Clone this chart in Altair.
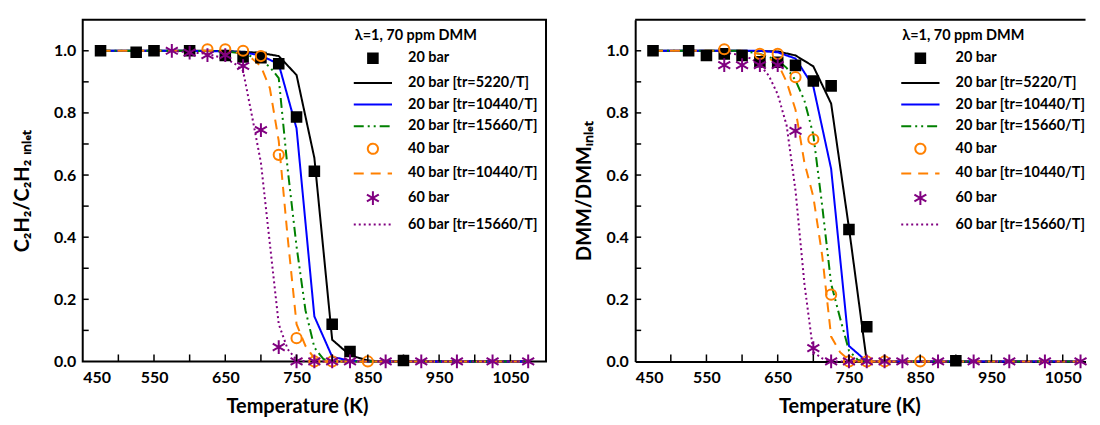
import altair as alt
import pandas as pd

# ---------------- series definitions ----------------
SERIES = ["20 bar", "20 bar [tr=5220/T]", "20 bar [tr=10440/T]", "20 bar [tr=15660/T]",
          "40 bar", "40 bar [tr=10440/T]", "60 bar", "60 bar [tr=15660/T]"]
STROKES = ["#000000", "#000000", "#0000FF", "#008000", "#FF8000", "#FF8000", "#800080", "#800080"]
FILLS = ["#000000", "transparent", "transparent", "transparent", "transparent", "transparent",
         "transparent", "transparent"]
SQUARE = "M-0.8,-0.8H0.8V0.8H-0.8Z"
LINE = "M-3.2,0H3.2"
CIRCLE = "M-0.85,0A0.85,0.85,0,1,1,0.85,0A0.85,0.85,0,1,1,-0.85,0Z"
STAR = "M0,-1.15V1.15M-1,-0.58L1,0.58M-1,0.58L1,-0.58"
SHAPES = [SQUARE, LINE, LINE, LINE, CIRCLE, LINE, STAR, LINE]
DASHES = [[1, 0], [1, 0], [1, 0], [10, 4, 2, 4, 2, 4], [1, 0], [10, 7], [1, 0], [2, 3]]

X_TICKS = [500, 550, 600, 650, 700, 750, 800, 850, 900, 950, 1000, 1050]
Y_TICKS = [0.1, 0.2, 0.3, 0.4, 0.5, 0.6, 0.7, 0.8, 0.9, 1.0]
X_LABELS = [450, 550, 650, 750, 850, 950, 1050]
Y_LABELS = [0.0, 0.2, 0.4, 0.6, 0.8, 1.0]

# ---------------- left panel: C2H2 ----------------
L_EXP20_T = [475, 525, 550, 600, 650, 675, 700, 725, 750, 775, 800, 825, 900]
L_EXP20_V = [1.0, 0.995, 1.0, 1.0, 0.985, 0.98, 0.978, 0.958, 0.787, 0.612, 0.12, 0.032, 0.003]
L_EXP40_T = [625, 650, 675, 700, 725, 750, 775, 800, 850]
L_EXP40_V = [1.005, 1.005, 1.0, 0.983, 0.665, 0.075, 0.0, 0.0, 0.0]
L_EXP60_T = [575, 600, 625, 650, 675, 700, 725, 750, 775, 800, 825, 875, 925, 975, 1025, 1075]
L_EXP60_V = [1.0, 0.994, 0.986, 0.986, 0.951, 0.745, 0.046, 0.0, 0.0, 0.0, 0.0, 0.0, 0.0, 0.0, 0.0, 0.0]

L_M5220_T = [475, 500, 525, 550, 575, 600, 625, 650, 675, 700, 725, 750, 775, 800, 825, 850, 875,
             900, 950, 1000, 1050, 1075]
L_M5220_V = [1.0, 1.0, 1.0, 1.0, 1.0, 1.0, 1.0, 0.999, 0.997, 0.993, 0.983, 0.922, 0.655, 0.07,
             0.02, 0.003, 0.0, 0.0, 0.0, 0.0, 0.0, 0.0]
L_M10440_T = [475, 500, 550, 600, 650, 675, 700, 725, 750, 775, 800, 825, 850, 900, 950, 1000,
              1050, 1075]
L_M10440_V = [1.0, 1.0, 1.0, 1.0, 0.998, 0.995, 0.985, 0.957, 0.75, 0.145, 0.015, 0.002, 0.0, 0.0,
              0.0, 0.0, 0.0, 0.0]
L_M15660_T = [475, 500, 550, 600, 650, 675, 700, 712.5, 725, 737.5, 750, 762.5, 775, 787.5, 800,
              850, 900, 950, 1000, 1050, 1075]
L_M15660_V = [1.0, 1.0, 1.0, 1.0, 0.998, 0.992, 0.97, 0.948, 0.912, 0.62, 0.37, 0.165, 0.045,
              0.008, 0.0, 0.0, 0.0, 0.0, 0.0, 0.0, 0.0]
L_M40_T = [475, 500, 550, 600, 650, 675, 687.5, 700, 712.5, 725, 737.5, 750, 762.5, 775, 787.5,
           800, 850, 900, 950, 1000, 1050, 1075]
L_M40_V = [1.0, 1.0, 1.0, 1.0, 1.0, 0.99, 0.975, 0.95, 0.88, 0.71, 0.40, 0.12, 0.05, 0.01, 0.0,
           0.0, 0.0, 0.0, 0.0, 0.0, 0.0, 0.0]
L_M60_T = [575, 600, 625, 650, 662.5, 675, 687.5, 700, 712.5, 725, 737.5, 750, 762.5, 800, 850,
           900, 950, 1000, 1050, 1075]
L_M60_V = [1.0, 0.995, 0.99, 0.975, 0.96, 0.935, 0.79, 0.64, 0.38, 0.12, 0.04, 0.005, 0.0, 0.0,
           0.0, 0.0, 0.0, 0.0, 0.0, 0.0]

# ---------------- right panel: DMM ----------------
R_EXP20_T = [475, 525, 550, 575, 600, 625, 650, 675, 700, 725, 750, 775, 900]
R_EXP20_V = [1.0, 1.0, 0.985, 0.99, 0.985, 0.965, 0.963, 0.953, 0.903, 0.887, 0.425, 0.112, 0.002]
R_EXP40_T = [575, 625, 650, 675, 700, 725, 750, 775, 800, 850]
R_EXP40_V = [1.005, 0.99, 0.99, 0.915, 0.715, 0.215, 0.0, 0.0, 0.0, 0.0]
R_EXP60_T = [575, 600, 625, 650, 675, 700, 725, 750, 775, 800, 825, 875, 925, 975, 1025, 1075]
R_EXP60_V = [0.954, 0.954, 0.954, 0.954, 0.742, 0.043, 0.0, 0.0, 0.0, 0.0, 0.0, 0.0, 0.0, 0.0,
             0.0, 0.0]

R_M5220_T = [475, 500, 550, 600, 650, 675, 700, 725, 750, 775, 800, 850, 900, 950, 1000, 1050, 1075]
R_M5220_V = [1.0, 1.0, 1.0, 1.0, 0.998, 0.985, 0.95, 0.83, 0.43, 0.0, 0.0, 0.0, 0.0, 0.0, 0.0,
             0.0, 0.0]
R_M10440_T = [475, 500, 550, 600, 625, 650, 675, 700, 725, 750, 775, 800, 850, 900, 950, 1000,
              1050, 1075]
R_M10440_V = [1.0, 1.0, 1.0, 1.0, 1.0, 0.995, 0.975, 0.885, 0.62, 0.05, 0.0, 0.0, 0.0, 0.0, 0.0,
              0.0, 0.0, 0.0]
R_M15660_T = [475, 500, 550, 600, 625, 650, 662.5, 675, 687.5, 700, 712.5, 725, 737.5, 750, 762.5,
              775, 800, 850, 900, 950, 1000, 1050, 1075]
R_M15660_V = [1.0, 1.0, 1.0, 1.0, 0.99, 0.97, 0.945, 0.905, 0.84, 0.73, 0.50, 0.25, 0.14, 0.035,
              0.005, 0.0, 0.0, 0.0, 0.0, 0.0, 0.0, 0.0, 0.0]
R_M40_T = [475, 500, 550, 600, 625, 650, 662.5, 675, 687.5, 700, 712.5, 725, 737.5, 750, 762.5,
           800, 850, 900, 950, 1000, 1050, 1075]
R_M40_V = [1.0, 1.0, 1.0, 1.0, 0.99, 0.96, 0.9, 0.81, 0.64, 0.53, 0.34, 0.08, 0.03, 0.005, 0.0,
           0.0, 0.0, 0.0, 0.0, 0.0, 0.0, 0.0]
R_M60_T = [575, 600, 612.5, 625, 637.5, 650, 662.5, 675, 687.5, 700, 712.5, 725, 750, 800, 850,
           900, 950, 1000, 1050, 1075]
R_M60_V = [0.995, 0.985, 0.975, 0.955, 0.92, 0.86, 0.76, 0.55, 0.25, 0.03, 0.01, 0.0, 0.0, 0.0,
           0.0, 0.0, 0.0, 0.0, 0.0, 0.0]


def frame(pairs):
    rows = []
    for name, ts, vs in pairs:
        for t, v in zip(ts, vs):
            rows.append({"T": t, "v": v, "series": name})
    return pd.DataFrame(rows)


FONT = "Lato"
PLOT_H = 343


def panel(points, lines, ytitle, width, xmax, title_pad, legend_x, framed):
    pts_df = frame(points)
    lns_df = frame(lines)
    xscale = alt.Scale(domain=[450, xmax], nice=False, zero=False)
    yscale = alt.Scale(domain=[0, 1.1], nice=False)
    x = alt.X("T:Q", scale=xscale, title="Temperature (K)",
              axis=alt.Axis(values=X_LABELS, format="d", labelPadding=8, titlePadding=11,
                            titleX=215,
                            domain=not framed, domainColor="black", domainWidth=2))
    y = alt.Y("v:Q", scale=yscale, title=ytitle,
              axis=alt.Axis(values=Y_LABELS, format=".1f", labelPadding=7, titlePadding=title_pad,
                            domain=not framed, domainColor="black", domainWidth=2))
    leg = alt.Legend(title="λ=1, 70 ppm DMM", orient="none", legendX=legend_x, legendY=9)
    stroke = alt.Stroke("series:N", scale=alt.Scale(domain=SERIES, range=STROKES), legend=leg)
    fill = alt.Fill("series:N", scale=alt.Scale(domain=SERIES, range=FILLS), legend=leg)
    shape = alt.Shape("series:N", scale=alt.Scale(domain=SERIES, range=SHAPES), legend=leg)
    dash = alt.StrokeDash("series:N", scale=alt.Scale(domain=SERIES, range=DASHES), legend=leg)

    line_layer = alt.Chart(lns_df).mark_line(strokeWidth=2).encode(
        x=x, y=y, stroke=stroke, strokeDash=dash)
    point_layer = alt.Chart(pts_df).mark_point(size=144, strokeWidth=2, opacity=1).encode(
        x=x, y=y, stroke=stroke, fill=fill, shape=shape)

    xt = alt.Chart(pd.DataFrame({"T": X_TICKS})).mark_rule(color="black", strokeWidth=1.5).encode(
        x=x, y=alt.value(PLOT_H), y2=alt.value(PLOT_H - 7))
    yt = alt.Chart(pd.DataFrame({"v": Y_TICKS})).mark_rule(color="black", strokeWidth=1.5).encode(
        y=y, x=alt.value(0), x2=alt.value(6))
    layers = [line_layer, point_layer, xt, yt]
    if not framed:
        top = alt.Chart(pd.DataFrame({"v": [1.1]})).mark_rule(color="black", strokeWidth=2).encode(
            y=y, x=alt.value(0), x2=alt.value(width))
        layers.append(top)
    ch = alt.layer(*layers).properties(width=width, height=PLOT_H)
    if not framed:
        ch = ch.properties(view=alt.ViewBackground(stroke="transparent"))
    return ch


left = panel(
    points=[("20 bar", L_EXP20_T, L_EXP20_V), ("40 bar", L_EXP40_T, L_EXP40_V),
            ("60 bar", L_EXP60_T, L_EXP60_V)],
    lines=[("20 bar [tr=5220/T]", L_M5220_T, L_M5220_V),
           ("20 bar [tr=10440/T]", L_M10440_T, L_M10440_V),
           ("20 bar [tr=15660/T]", L_M15660_T, L_M15660_V),
           ("40 bar [tr=10440/T]", L_M40_T, L_M40_V),
           ("60 bar [tr=15660/T]", L_M60_T, L_M60_V)],
    ytitle="C₂H₂/C₂H₂ ᵢₙₗₑₜ", width=465, xmax=1100, title_pad=21, legend_x=273, framed=True)

right = panel(
    points=[("20 bar", R_EXP20_T, R_EXP20_V), ("40 bar", R_EXP40_T, R_EXP40_V),
            ("60 bar", R_EXP60_T, R_EXP60_V)],
    lines=[("20 bar [tr=5220/T]", R_M5220_T, R_M5220_V),
           ("20 bar [tr=10440/T]", R_M10440_T, R_M10440_V),
           ("20 bar [tr=15660/T]", R_M15660_T, R_M15660_V),
           ("40 bar [tr=10440/T]", R_M40_T, R_M40_V),
           ("60 bar [tr=15660/T]", R_M60_T, R_M60_V)],
    ytitle="DMM/DMMᵢₙₗₑₜ", width=452, xmax=1082, title_pad=11, legend_x=268, framed=False)

chart = alt.hconcat(left, right, spacing=26.5).resolve_scale(
    stroke="independent", fill="independent", shape="independent", strokeDash="independent",
    x="independent", y="independent"
).resolve_legend(
    stroke="independent", fill="independent", shape="independent", strokeDash="independent"
).properties(
    padding={"left": 3, "top": 9, "right": 0, "bottom": 0}
).configure_view(
    stroke="black", strokeWidth=2
).configure_axis(
    labelFont=FONT, labelFontSize=16, labelFontWeight="bold", labelColor="black",
    titleFont=FONT, titleFontSize=20, titleFontWeight="bold", titleColor="black",
    grid=False, ticks=False
).configure_legend(
    titleFont=FONT, titleFontSize=14.5, titleFontWeight="bold", titleColor="black",
    labelFont=FONT, labelFontSize=14.5, labelFontWeight="bold", labelColor="black",
    symbolSize=144, symbolStrokeWidth=2, symbolOffset=11, labelOffset=28, rowPadding=6.7,
    padding=0, titlePadding=8, labelLimit=300
)

chart.save("out.html", embed_options={"renderer": "svg", "actions": False})
